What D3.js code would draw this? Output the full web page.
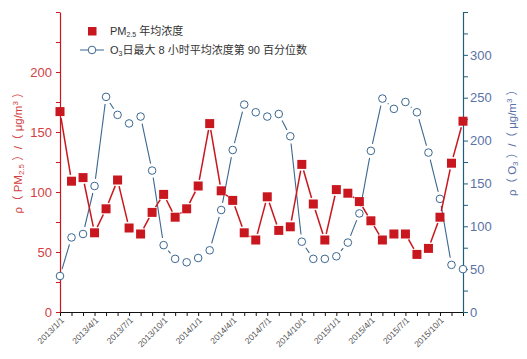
<!DOCTYPE html>
<html><head><meta charset="utf-8">
<script src="https://cdn.jsdelivr.net/npm/d3@7"></script>
<style>
html,body{margin:0;padding:0;background:#fff;}
svg{display:block;font-family:"Liberation Sans","Noto Sans CJK SC",sans-serif;}
</style></head>
<body>
<svg id="c" width="527" height="359"></svg>
<script>
const months = ["2013/1/1","2013/2/1","2013/3/1","2013/4/1","2013/5/1","2013/6/1","2013/7/1","2013/8/1","2013/9/1","2013/10/1","2013/11/1","2013/12/1",
"2014/1/1","2014/2/1","2014/3/1","2014/4/1","2014/5/1","2014/6/1","2014/7/1","2014/8/1","2014/9/1","2014/10/1","2014/11/1","2014/12/1",
"2015/1/1","2015/2/1","2015/3/1","2015/4/1","2015/5/1","2015/6/1","2015/7/1","2015/8/1","2015/9/1","2015/10/1","2015/11/1","2015/12/1"];
const tickLabels = ["2013/1/1","2013/4/1","2013/7/1","2013/10/1","2014/1/1","2014/4/1","2014/7/1","2014/10/1","2015/1/1","2015/4/1","2015/7/1","2015/10/1"];
const pm25 = [167,109,112,66,86,110,70,65,83,98,79,86,
              105,157,101,93,66,60,96,68,71,123,90,60,
              102,99,92,76,60,65,65,48,53,79,124,159];
const o3 = [42,87,91,147,251,230,220,228,165,78,62,58,
            63,72,119,189,242,233,228,231,205,82,62,62,
            65,81,115,188,249,237,245,233,186,132,55,50];
const leftTicks = [0,25,50,75,100,125,150,175,200,225,250];
const leftLabels = [0,50,100,150,200];
const rightTicks = [0,25,50,75,100,125,150,175,200,225,250,275,300,325,350];
const rightLabels = [0,50,100,150,200,250,300];

const RED = "#c8171e", REDTXT = "#d2403f", BLUE = "#3b6790", AXB = "#1f5f7c", BLUETXT = "#5a72a6";
const svg = d3.select("#c");
const L = 60, R = 463, T = 12, B = 312;

const x = d3.scalePoint().domain(months).range([L, R]);
const yL = d3.scaleLinear().domain([0, 250]).range([B, T]);
const yR = d3.scaleLinear().domain([0, 350]).range([B, T]);

// bottom axis
const gx = svg.append("g").attr("transform", `translate(0,${B})`)
  .call(d3.axisBottom(x).tickValues(months).tickSize(4).tickSizeOuter(0)
    .tickFormat(d => tickLabels.includes(d) ? d : ""));
gx.select(".domain").attr("stroke", "#111");
gx.selectAll(".tick line").attr("stroke", "#111");
gx.selectAll(".tick text").attr("fill", "#555").attr("font-size", "8.5px")
  .attr("text-anchor", "end").attr("dy", null).attr("y", 0)
  .attr("transform", "translate(4,9) rotate(-45)");

// left axis
const gl = svg.append("g").attr("transform", `translate(${L},0)`)
  .call(d3.axisLeft(yL).tickValues(leftTicks).tickSize(4).tickSizeOuter(0)
    .tickFormat(d => leftLabels.includes(d) ? d : ""));
gl.select(".domain").attr("stroke", RED).attr("stroke-width", 1.2);
gl.selectAll(".tick line").attr("stroke", RED);
gl.selectAll(".tick text").attr("fill", REDTXT).attr("font-size", "13px").attr("x", -8);

// right axis
const gr = svg.append("g").attr("transform", `translate(${R},0)`)
  .call(d3.axisRight(yR).tickValues(rightTicks).tickSize(5).tickSizeOuter(0)
    .tickFormat(d => rightLabels.includes(d) ? d : ""));
gr.select(".domain").attr("stroke", AXB).attr("stroke-width", 1.2);
gr.selectAll(".tick line").attr("stroke", AXB);
gr.selectAll(".tick text").attr("fill", BLUETXT).attr("font-size", "13px").attr("x", 7);

// axis titles
const lt = svg.append("text").attr("transform", "translate(22,150) rotate(-90)")
  .attr("text-anchor", "middle").attr("fill", REDTXT).attr("font-size", "11.5px");
lt.append("tspan").text("ρ（ PM");
lt.append("tspan").attr("font-size", "8px").attr("dy", 2).text("2.5");
lt.append("tspan").attr("dy", -2).text(" ）/（ μg/m");
lt.append("tspan").attr("font-size", "8px").attr("dy", -4).text("3");
lt.append("tspan").attr("dy", 4).text(" ）");

const rt = svg.append("text").attr("transform", "translate(516,140) rotate(-90)")
  .attr("text-anchor", "middle").attr("fill", BLUETXT).attr("font-size", "11.5px");
rt.append("tspan").text("ρ（ O");
rt.append("tspan").attr("font-size", "8px").attr("dy", 2).text("3");
rt.append("tspan").attr("dy", -2).text(" ）/（ μg/m");
rt.append("tspan").attr("font-size", "8px").attr("dy", -4).text("3");
rt.append("tspan").attr("dy", 4).text(" ）");

// segments with a gap around each symbol
function gapSegments(pts, gap) {
  const segs = [];
  for (let i = 0; i < pts.length - 1; i++) {
    const [x1, y1] = pts[i], [x2, y2] = pts[i + 1];
    const dx = x2 - x1, dy = y2 - y1, len = Math.hypot(dx, dy);
    if (len <= 2 * gap + 0.5) continue;
    const ux = dx / len, uy = dy / len;
    segs.push([x1 + ux * gap, y1 + uy * gap, x2 - ux * gap, y2 - uy * gap]);
  }
  return segs;
}

// O3 series
const o3pts = o3.map((v, i) => [x(months[i]), yR(v)]);
svg.append("g").selectAll("line").data(gapSegments(o3pts, 7.2)).join("line")
  .attr("x1", d => d[0]).attr("y1", d => d[1]).attr("x2", d => d[2]).attr("y2", d => d[3])
  .attr("stroke", BLUE).attr("stroke-width", 1.1);
svg.append("g").selectAll("circle").data(o3).join("circle")
  .attr("cx", (d, i) => x(months[i])).attr("cy", d => yR(d)).attr("r", 3.8)
  .attr("fill", "#fff").attr("stroke", BLUE).attr("stroke-width", 1);

// PM2.5 series
const pmpts = pm25.map((v, i) => [x(months[i]), yL(v)]);
svg.append("g").selectAll("line").data(gapSegments(pmpts, 6.3)).join("line")
  .attr("x1", d => d[0]).attr("y1", d => d[1]).attr("x2", d => d[2]).attr("y2", d => d[3])
  .attr("stroke", RED).attr("stroke-width", 1.5);
svg.append("g").selectAll("rect").data(pm25).join("rect")
  .attr("x", (d, i) => x(months[i]) - 4.5).attr("y", d => yL(d) - 4.5)
  .attr("width", 9).attr("height", 9).attr("fill", RED);

// legend
const lg = svg.append("g");
lg.append("rect").attr("x", 88).attr("y", 27).attr("width", 8.5).attr("height", 8.5).attr("fill", RED);
const l1 = lg.append("text").attr("x", 110).attr("y", 35).attr("fill", "#333").attr("font-size", "11px");
l1.append("tspan").text("PM");
l1.append("tspan").attr("font-size", "7px").attr("dy", 2).text("2.5");
l1.append("tspan").attr("dy", -2).text(" 年均浓度");
lg.append("line").attr("x1", 80).attr("x2", 104).attr("y1", 50).attr("y2", 50).attr("stroke", BLUE);
lg.append("circle").attr("cx", 92).attr("cy", 50).attr("r", 3.8).attr("fill", "#fff").attr("stroke", BLUE);
const l2 = lg.append("text").attr("x", 110).attr("y", 54).attr("fill", "#333").attr("font-size", "11px");
l2.append("tspan").text("O");
l2.append("tspan").attr("font-size", "7px").attr("dy", 2).text("3");
l2.append("tspan").attr("dy", -2).text("日最大 8 小时平均浓度第 90 百分位数");
</script>
</body></html>
